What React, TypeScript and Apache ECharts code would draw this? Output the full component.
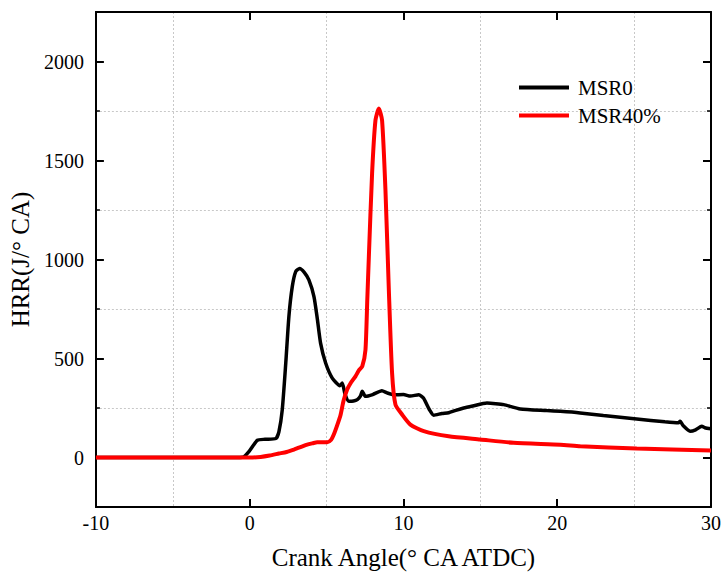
import React, { useEffect, useRef } from "react";
import * as echarts from "echarts";

const seriesNames = ["MSR0", "MSR40%"];

const msr0: [number, number][] = [
  [-10, 0], [-1, 0], [-0.45, 1], [0, 35], [0.5, 87], [1, 92], [1.7, 96], [1.9, 130],
  [2.12, 242], [2.35, 480], [2.55, 712], [2.77, 863], [3.0, 940], [3.25, 955],
  [3.55, 935], [3.85, 897], [4.18, 813], [4.4, 700], [4.61, 578], [4.94, 477],
  [5.37, 401], [5.87, 363], [6.02, 376], [6.2, 320], [6.45, 284], [6.75, 285],
  [7.0, 292], [7.2, 310], [7.32, 334], [7.53, 309], [8.0, 318], [8.6, 337],
  [8.94, 326], [9.37, 317], [10.0, 318], [10.45, 310], [11.0, 317], [11.3, 300],
  [11.7, 240], [11.97, 214], [12.5, 222], [12.94, 226], [13.4, 238], [13.92, 250],
  [14.5, 260], [15.43, 275], [16.0, 272], [16.52, 267], [17.6, 245], [19.33, 237],
  [20.2, 233], [21.49, 225], [23, 212], [25.17, 195], [27.0, 180], [27.88, 175],
  [27.99, 183], [28.2, 160], [28.64, 133], [29.0, 140], [29.4, 158], [29.6, 150],
  [30.0, 145],
];

const msr40: [number, number][] = [
  [-10, 0], [0, 0], [0.71, 3], [1.3, 10], [1.9, 20], [2.4, 28], [2.88, 40], [3.3, 52],
  [3.74, 65], [4.1, 72], [4.39, 77], [5.04, 77], [5.3, 90], [5.47, 116], [5.7, 165],
  [5.91, 215], [6.1, 285], [6.34, 343], [6.6, 380], [6.88, 410], [7.1, 440],
  [7.32, 460], [7.53, 544], [7.65, 800], [7.75, 1014], [7.96, 1434], [8.18, 1703],
  [8.4, 1762], [8.61, 1703], [8.83, 1350], [9.05, 846], [9.26, 427], [9.48, 267],
  [9.91, 217], [10.45, 166], [11.32, 133], [12.94, 107], [15.0, 91], [17.16, 74],
  [20.2, 65], [21.5, 57], [25.17, 45], [30, 35],
];

const xRange = [-10, 30];
const yRange = [-250, 2250];

const serif = "Liberation Serif";

export default function App() {
  const ref = useRef<HTMLDivElement>(null);
  useEffect(() => {
    if (!ref.current) return;
    const chart = echarts.init(ref.current, undefined, { renderer: "svg" });
    const axisLine = { show: true, onZero: false, lineStyle: { color: "#000", width: 2 } };
    const gridDash = { show: true, lineStyle: { color: "#c8c8c8", type: [2, 2] as any, width: 1 } };
    chart.setOption({
      animation: false,
      backgroundColor: "#fff",
      grid: { left: 95, right: 12, top: 12, bottom: 67, containLabel: false },
      legend: {
        left: 514,
        top: 72,
        orient: "vertical",
        icon: "rect",
        itemWidth: 50,
        itemHeight: 4,
        itemGap: 7,
        textStyle: { fontFamily: serif, fontSize: 21, color: "#000", padding: [0, 0, 0, 4] },
        data: seriesNames,
      },
      xAxis: [
        {
          type: "value",
          min: xRange[0],
          max: xRange[1],
          interval: 10,
          position: "bottom",
          name: "Crank Angle(° CA ATDC)",
          nameLocation: "middle",
          nameGap: 38,
          nameTextStyle: { fontFamily: serif, fontSize: 25, color: "#000" },
          axisLine,
          axisTick: { show: true, inside: true, length: 8, lineStyle: { width: 2, color: "#000" } },
          axisLabel: { fontFamily: serif, fontSize: 20, color: "#000", margin: 6 },
          splitLine: { show: false },
          minorTick: { show: false, splitNumber: 2 },
          minorSplitLine: gridDash,
        },
        {
          type: "value",
          min: xRange[0],
          max: xRange[1],
          interval: 10,
          position: "top",
          axisLine,
          axisTick: { show: true, inside: true, length: 8, lineStyle: { width: 2, color: "#000" } },
          axisLabel: { show: false },
          splitLine: { show: false },
        },
      ],
      yAxis: [
        {
          type: "value",
          min: yRange[0],
          max: yRange[1],
          interval: 500,
          position: "left",
          axisLine,
          axisTick: { show: true, inside: true, length: 4, lineStyle: { width: 1.5, color: "#000" } },
          minorTick: { show: true, splitNumber: 2, length: 8, lineStyle: { width: 2, color: "#000" } },
          axisLabel: { show: false },
          splitLine: gridDash,
        },
        {
          type: "value",
          min: yRange[0],
          max: yRange[1],
          interval: 250,
          position: "left",
          name: "HRR(J/° CA)",
          nameLocation: "middle",
          nameGap: 60,
          nameTextStyle: { fontFamily: serif, fontSize: 25, color: "#000" },
          axisLine: { show: false, onZero: false },
          axisTick: { show: false },
          axisLabel: {
            fontFamily: serif,
            fontSize: 20,
            color: "#000",
            margin: 12,
            formatter: (v: number) => (Math.round(v) % 500 === 0 ? String(Math.round(v)) : ""),
          },
          splitLine: { show: false },
        },
        {
          type: "value",
          min: yRange[0],
          max: yRange[1],
          interval: 500,
          position: "right",
          axisLine,
          axisTick: { show: true, inside: true, length: 4, lineStyle: { width: 1.5, color: "#000" } },
          minorTick: { show: true, splitNumber: 2, length: 8, lineStyle: { width: 2, color: "#000" } },
          axisLabel: { show: false },
          splitLine: { show: false },
        },
      ],
      series: [
        {
          name: seriesNames[0],
          type: "line",
          xAxisIndex: 0,
          yAxisIndex: 0,
          data: msr0,
          showSymbol: false,
          smooth: 0.2,
          lineStyle: { color: "#000", width: 3.5 },
          itemStyle: { color: "#000" },
          z: 3,
        },
        {
          name: seriesNames[1],
          type: "line",
          xAxisIndex: 0,
          yAxisIndex: 0,
          data: msr40,
          showSymbol: false,
          smooth: 0.2,
          lineStyle: { color: "#ff0000", width: 4 },
          itemStyle: { color: "#ff0000" },
          z: 4,
        },
      ],
    });
    return () => chart.dispose();
  }, []);
  return <div ref={ref} style={{ position: "fixed", left: 0, top: 0, width: 724, height: 575 }} />;
}
